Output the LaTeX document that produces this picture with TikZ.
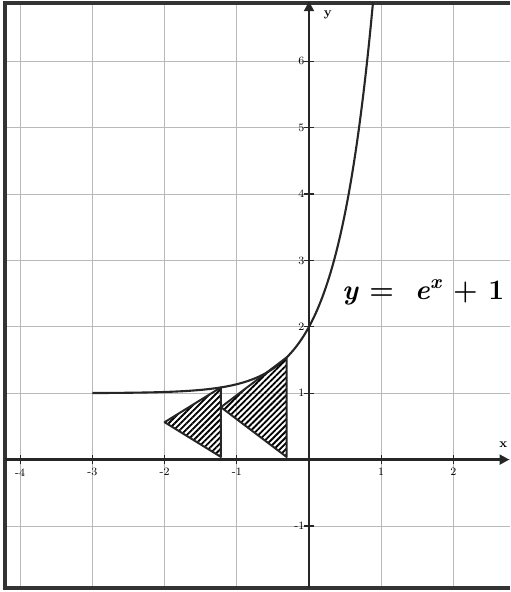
\documentclass[tikz,border=0pt]{standalone}
\usetikzlibrary{arrows.meta, patterns.meta, calc}

\tikzset{
  gridline/.style={gray!55, line width=0.6pt},
  axisline/.style={black!85, line width=1.9pt},
  framebox/.style={black!80, line width=2.8pt},
  tickmark/.style={black!85, line width=0.8pt},
  ticklabel/.style={font=\fontsize{8}{9}\selectfont, inner sep=0pt},
  eqlabel/.style={font=\fontsize{20}{24}\selectfont\bfseries},
  hatched/.style={black!85, line width=1.4pt, line join=round,
    pattern={Lines[angle=45, distance=3pt, line width=1.3pt]}},
}

\begin{document}
\begin{tikzpicture}[xscale=1.805, yscale=1.66, >={Triangle[length=7pt, width=7pt]}]
    \useasboundingbox (-4.28,-1.994) rectangle (2.784,6.922);

    % Frame corners
    \coordinate (TL) at (-4.211, 6.877);
    \coordinate (BL) at (-4.211, -1.934);
    \coordinate (TR) at (2.784, 6.877);
    \coordinate (BR) at (2.784, -1.934);

    % Grid
    \foreach \x in {-4,...,2}
      \draw[gridline] (\x,-1.934) -- (\x,6.877);
    \foreach \y in {-1,...,6}
      \draw[gridline] (-4.211,\y) -- (2.784,\y);

    % Frame (open on the right)
    \draw[framebox] (TR) -- (TL) -- (BL) -- (BR);

    % Axes
    \coordinate (xstart) at (-4.211, 0);
    \coordinate (xend) at (2.775, 0);
    \coordinate (ystart) at (0, -1.934);
    \coordinate (yend) at (0, 6.90);
    \draw[axisline, ->] (xstart) -- (xend);
    \draw[axisline, ->] (ystart) -- (yend);
    \node[font=\small\bfseries] (xlab) at (2.69, 0.22) {x};
    \node[font=\small\bfseries] (ylab) at (0.26, 6.70) {y};

    % Ticks
    \foreach \x [count=\i] in {-4,-3,-2,-1,1,2} {
      \draw[tickmark] (\x,-0.07) -- (\x,0.07);
      \node[ticklabel] (xtick\i) at (\x,-0.19) {\x};
    }
    \foreach \y [count=\i] in {-1,1,2,3,4,5,6} {
      \draw[tickmark] (-0.07,\y) -- (0.07,\y);
      \node[ticklabel, anchor=east] (ytick\i) at (-0.06,\y) {\y};
    }

    % Curve
    \draw[black!85, line width=1.5pt, domain=-3:0.886, samples=120, smooth, variable=\t]
      plot ({\t}, {1+exp(2*\t)});

    % Triangles under the curve
    \coordinate (A1) at (-2, 0.563);
    \coordinate (B1) at (-1.22, {1+exp(-2.44)});
    \coordinate (C1) at (-1.22, 0.04);
    \coordinate (A2) at (-1.22, 0.789);
    \coordinate (B2) at (-0.31, {1+exp(-0.62)});
    \coordinate (C2) at (-0.31, 0.04);
    \draw[hatched] (A1) -- (B1) -- (C1) -- cycle;
    \draw[hatched] (A2) -- (B2) -- (C2) -- cycle;

    % Label
    \coordinate (labelpos) at (1.58,2.52);
    \node[eqlabel] (curvelab) at (labelpos) {\textit{y} =\ \ \textit{e}\textsuperscript{\textit{x}} + 1};

\end{tikzpicture}
\end{document}
